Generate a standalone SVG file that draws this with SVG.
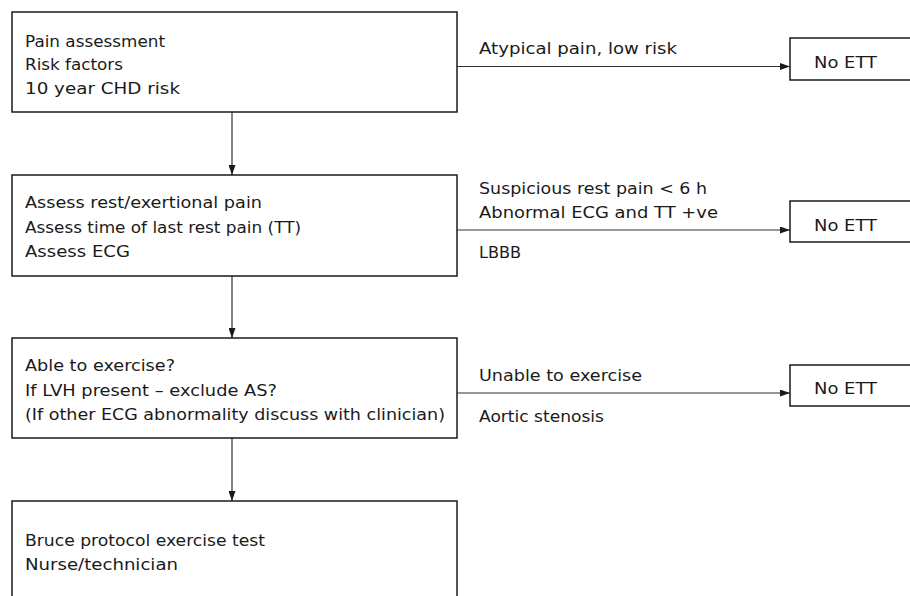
<svg xmlns="http://www.w3.org/2000/svg" width="910" height="596" viewBox="0 0 910 596">
<style>
.box{fill:#fff;stroke:#1a1a1a;stroke-width:1.5}
.t{font-family:"DejaVu Sans","Liberation Sans",Arial,sans-serif;font-size:16.5px;fill:#1a1a1a}
.c{fill:none;stroke:#333;stroke-width:1.2}
</style>
<defs>
<marker id="ah" viewBox="0 0 10 7" refX="10" refY="3.5" markerWidth="10" markerHeight="7" markerUnits="userSpaceOnUse" orient="auto">
<path d="M0,0 L10,3.5 L0,7 Z" fill="#1a1a1a"/>
</marker>
</defs>
<rect width="910" height="596" fill="#fff"/>
<g id="connectors">
<line class="c" x1="232" y1="112" x2="232" y2="175" marker-end="url(#ah)"/>
<line class="c" x1="232" y1="276" x2="232" y2="338" marker-end="url(#ah)"/>
<line class="c" x1="232" y1="438" x2="232" y2="501" marker-end="url(#ah)"/>
<line class="c" x1="457" y1="66.5" x2="790" y2="66.5" marker-end="url(#ah)"/>
<line class="c" x1="457" y1="230" x2="790" y2="230" marker-end="url(#ah)"/>
<line class="c" x1="457" y1="393" x2="790" y2="393" marker-end="url(#ah)"/>
<text class="t" x="479" y="54" textLength="198" lengthAdjust="spacingAndGlyphs">Atypical pain, low risk</text>
<text class="t" x="479" y="194" textLength="228" lengthAdjust="spacingAndGlyphs">Suspicious rest pain &lt; 6 h</text>
<text class="t" x="479" y="218" textLength="239" lengthAdjust="spacingAndGlyphs">Abnormal ECG and TT +ve</text>
<text class="t" x="479" y="258" textLength="42" lengthAdjust="spacingAndGlyphs">LBBB</text>
<text class="t" x="479" y="381" textLength="163" lengthAdjust="spacingAndGlyphs">Unable to exercise</text>
<text class="t" x="479" y="421.5" textLength="125" lengthAdjust="spacingAndGlyphs">Aortic stenosis</text>
</g>
<g id="n1">
<rect class="box" x="12" y="12" width="445" height="100"/>
<text class="t" x="25" y="46.5" textLength="140" lengthAdjust="spacingAndGlyphs">Pain assessment</text>
<text class="t" x="25" y="70" textLength="98" lengthAdjust="spacingAndGlyphs">Risk factors</text>
<text class="t" x="25" y="94" textLength="155" lengthAdjust="spacingAndGlyphs">10 year CHD risk</text>
</g>
<g id="n2">
<rect class="box" x="12" y="175" width="445" height="101"/>
<text class="t" x="25" y="208" textLength="237" lengthAdjust="spacingAndGlyphs">Assess rest/exertional pain</text>
<text class="t" x="25" y="233" textLength="276" lengthAdjust="spacingAndGlyphs">Assess time of last rest pain (TT)</text>
<text class="t" x="25" y="257" textLength="105" lengthAdjust="spacingAndGlyphs">Assess ECG</text>
</g>
<g id="n3">
<rect class="box" x="12" y="338" width="445" height="100"/>
<text class="t" x="25" y="371" textLength="150" lengthAdjust="spacingAndGlyphs">Able to exercise?</text>
<text class="t" x="25" y="396" textLength="252" lengthAdjust="spacingAndGlyphs">If LVH present – exclude AS?</text>
<text class="t" x="25" y="420" textLength="420" lengthAdjust="spacingAndGlyphs">(If other ECG abnormality discuss with clinician)</text>
</g>
<g id="n4">
<rect class="box" x="12" y="501" width="445" height="110"/>
<text class="t" x="25" y="546" textLength="240" lengthAdjust="spacingAndGlyphs">Bruce protocol exercise test</text>
<text class="t" x="25" y="570" textLength="153" lengthAdjust="spacingAndGlyphs">Nurse/technician</text>
</g>
<g id="e1">
<rect class="box" x="790" y="38" width="130" height="42"/>
<text class="t" x="814" y="68" textLength="63" lengthAdjust="spacingAndGlyphs">No ETT</text>
</g>
<g id="e2">
<rect class="box" x="790" y="201" width="130" height="41"/>
<text class="t" x="814" y="230.5" textLength="63" lengthAdjust="spacingAndGlyphs">No ETT</text>
</g>
<g id="e3">
<rect class="box" x="790" y="365" width="130" height="41"/>
<text class="t" x="814" y="394" textLength="63" lengthAdjust="spacingAndGlyphs">No ETT</text>
</g>
</svg>
